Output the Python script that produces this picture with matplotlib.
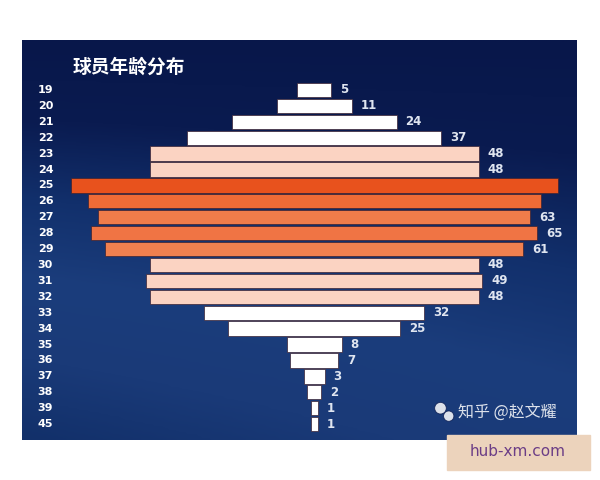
import numpy as np
import matplotlib
matplotlib.use("Agg")
import matplotlib.pyplot as plt
from matplotlib.colors import LinearSegmentedColormap
from matplotlib.patches import Rectangle

plt.rcParams["font.family"] = ["Noto Sans CJK SC", "DejaVu Sans"]

# data
ages = ["19", "20", "21", "22", "23", "24", "25", "26", "27", "28", "29",
        "30", "31", "32", "33", "34", "35", "36", "37", "38", "39", "45"]
counts = [5, 11, 24, 37, 48, 48, 71, 66, 63, 65, 61,
          48, 49, 48, 32, 25, 8, 7, 3, 2, 1, 1]
# the two longest bars have no value label in the picture
labels = ["5", "11", "24", "37", "48", "48", "", "", "63", "65", "61",
          "48", "49", "48", "32", "25", "8", "7", "3", "2", "1", "1"]
bar_colors = ["#ffffff", "#ffffff", "#ffffff", "#ffffff", "#fbd3c2", "#fbd3c2",
              "#e8521d", "#ef6b36", "#f07c4a", "#f07444", "#f0804f",
              "#fbd3c2", "#fbd3c2", "#fbd3c2",
              "#ffffff", "#ffffff", "#ffffff", "#ffffff", "#ffffff", "#ffffff",
              "#ffffff", "#ffffff"]

fig = plt.figure(figsize=(6, 4.8), dpi=100)
fig.patch.set_facecolor("white")

# dark panel
ax = fig.add_axes([22 / 600, 1 - 440 / 480, 555 / 600, 400 / 480])
bg = LinearSegmentedColormap.from_list(
    "bg", ["#08174a", "#0a1b50", "#12306c", "#1b3d7c", "#1a3a78", "#12306a"])
grad = np.linspace(0, 1, 200).reshape(-1, 1) * np.ones((1, 50))
grad = grad * (1 - 0.3 * np.linspace(0, 1, 50))[None, :]
ax.imshow(grad, cmap=bg, aspect="auto", extent=[-42.6, 38.3, 22.0, -3.14],
          zorder=0, vmin=0, vmax=1)

y = np.arange(len(ages))
vals = np.array(counts)
ax.barh(y, vals, left=-vals / 2, height=0.9, color=bar_colors,
        edgecolor="#3a2233", linewidth=0.5, zorder=2)

for i in range(len(ages)):
    ax.text(-40.3, y[i], ages[i], color="white", fontsize=8, fontweight="bold",
            ha="left", va="center", family=["DejaVu Sans"], zorder=3)
    if labels[i]:
        ax.text(vals[i] / 2 + 1.3, y[i], labels[i], color="#dfe5f0", fontsize=8.5,
                fontweight="bold", ha="left", va="center",
                family=["DejaVu Sans"], zorder=3)

ax.text(-35.2, -1.4, "球员年龄分布", color="white", fontsize=13.5,
        fontweight="bold", ha="left", va="center", zorder=3)

# watermark inside the panel
ax.text(20.9, 20.3, "知乎 @赵文耀", color="white", alpha=0.85, fontsize=11.5,
        ha="left", va="center", zorder=3)
ax.scatter([18.4, 19.6], [20.0, 20.5], s=[70, 55], color="white", alpha=0.85,
           edgecolors="#0a1b50", linewidths=0.6, zorder=3)

ax.set_xlim(-42.6, 38.3)
ax.set_ylim(22.0, -3.14)
ax.axis("off")

# site box at the bottom right
fig.patches.append(Rectangle((447 / 600, 1 - 470 / 480), 143 / 600, 35 / 480,
                             transform=fig.transFigure, color="#ecd3bc",
                             zorder=5))
fig.text(518 / 600, 1 - 452 / 480, "hub-xm.com", color="#6b3d86", fontsize=11,
         ha="center", va="center", family=["DejaVu Sans"], zorder=6)

plt.savefig("out.png", dpi=100, facecolor="white")
plt.close()
